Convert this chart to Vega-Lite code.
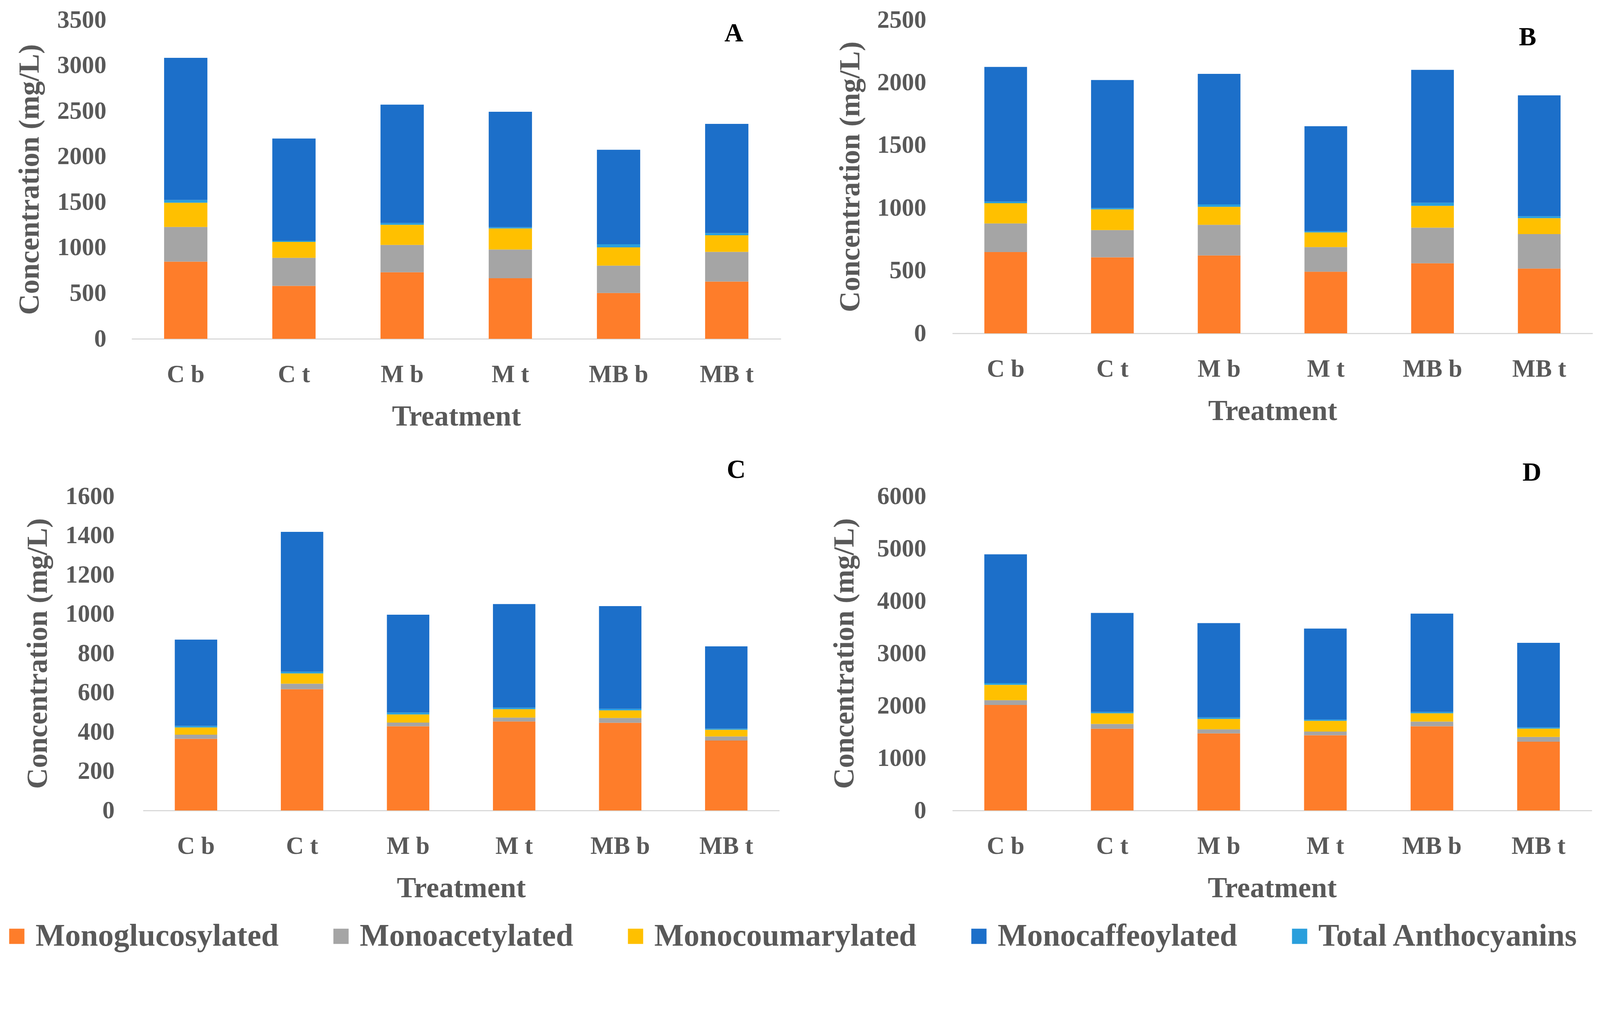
{
  "$schema": "https://vega.github.io/schema/vega-lite/v6.json",
  "background": "white",
  "padding": {"left": 3, "top": 20, "right": 10, "bottom": 10},
  "data": {"values": [
    {"panel": "A", "treatment": "C b", "series": "Monoglucosylated", "value": 847},
    {"panel": "A", "treatment": "C b", "series": "Monoacetylated", "value": 381},
    {"panel": "A", "treatment": "C b", "series": "Monocoumarylated", "value": 266},
    {"panel": "A", "treatment": "C b", "series": "Total Anthocyanins", "value": 30},
    {"panel": "A", "treatment": "C b", "series": "Monocaffeoylated", "value": 1560},
    {"panel": "A", "treatment": "C t", "series": "Monoglucosylated", "value": 581},
    {"panel": "A", "treatment": "C t", "series": "Monoacetylated", "value": 308},
    {"panel": "A", "treatment": "C t", "series": "Monocoumarylated", "value": 175},
    {"panel": "A", "treatment": "C t", "series": "Total Anthocyanins", "value": 13},
    {"panel": "A", "treatment": "C t", "series": "Monocaffeoylated", "value": 1121},
    {"panel": "A", "treatment": "M b", "series": "Monoglucosylated", "value": 730},
    {"panel": "A", "treatment": "M b", "series": "Monoacetylated", "value": 300},
    {"panel": "A", "treatment": "M b", "series": "Monocoumarylated", "value": 221},
    {"panel": "A", "treatment": "M b", "series": "Total Anthocyanins", "value": 20},
    {"panel": "A", "treatment": "M b", "series": "Monocaffeoylated", "value": 1299},
    {"panel": "A", "treatment": "M t", "series": "Monoglucosylated", "value": 665},
    {"panel": "A", "treatment": "M t", "series": "Monoacetylated", "value": 315},
    {"panel": "A", "treatment": "M t", "series": "Monocoumarylated", "value": 232},
    {"panel": "A", "treatment": "M t", "series": "Total Anthocyanins", "value": 13},
    {"panel": "A", "treatment": "M t", "series": "Monocaffeoylated", "value": 1267},
    {"panel": "A", "treatment": "MB b", "series": "Monoglucosylated", "value": 503},
    {"panel": "A", "treatment": "MB b", "series": "Monoacetylated", "value": 300},
    {"panel": "A", "treatment": "MB b", "series": "Monocoumarylated", "value": 201},
    {"panel": "A", "treatment": "MB b", "series": "Total Anthocyanins", "value": 34},
    {"panel": "A", "treatment": "MB b", "series": "Monocaffeoylated", "value": 1037},
    {"panel": "A", "treatment": "MB t", "series": "Monoglucosylated", "value": 628},
    {"panel": "A", "treatment": "MB t", "series": "Monoacetylated", "value": 326},
    {"panel": "A", "treatment": "MB t", "series": "Monocoumarylated", "value": 183},
    {"panel": "A", "treatment": "MB t", "series": "Total Anthocyanins", "value": 23},
    {"panel": "A", "treatment": "MB t", "series": "Monocaffeoylated", "value": 1199},
    {"panel": "B", "treatment": "C b", "series": "Monoglucosylated", "value": 648},
    {"panel": "B", "treatment": "C b", "series": "Monoacetylated", "value": 229},
    {"panel": "B", "treatment": "C b", "series": "Monocoumarylated", "value": 161},
    {"panel": "B", "treatment": "C b", "series": "Total Anthocyanins", "value": 13},
    {"panel": "B", "treatment": "C b", "series": "Monocaffeoylated", "value": 1074},
    {"panel": "B", "treatment": "C t", "series": "Monoglucosylated", "value": 606},
    {"panel": "B", "treatment": "C t", "series": "Monoacetylated", "value": 218},
    {"panel": "B", "treatment": "C t", "series": "Monocoumarylated", "value": 165},
    {"panel": "B", "treatment": "C t", "series": "Total Anthocyanins", "value": 11},
    {"panel": "B", "treatment": "C t", "series": "Monocaffeoylated", "value": 1021},
    {"panel": "B", "treatment": "M b", "series": "Monoglucosylated", "value": 621},
    {"panel": "B", "treatment": "M b", "series": "Monoacetylated", "value": 245},
    {"panel": "B", "treatment": "M b", "series": "Monocoumarylated", "value": 143},
    {"panel": "B", "treatment": "M b", "series": "Total Anthocyanins", "value": 20},
    {"panel": "B", "treatment": "M b", "series": "Monocaffeoylated", "value": 1041},
    {"panel": "B", "treatment": "M t", "series": "Monoglucosylated", "value": 492},
    {"panel": "B", "treatment": "M t", "series": "Monoacetylated", "value": 196},
    {"panel": "B", "treatment": "M t", "series": "Monocoumarylated", "value": 117},
    {"panel": "B", "treatment": "M t", "series": "Total Anthocyanins", "value": 9},
    {"panel": "B", "treatment": "M t", "series": "Monocaffeoylated", "value": 838},
    {"panel": "B", "treatment": "MB b", "series": "Monoglucosylated", "value": 559},
    {"panel": "B", "treatment": "MB b", "series": "Monoacetylated", "value": 284},
    {"panel": "B", "treatment": "MB b", "series": "Monocoumarylated", "value": 174},
    {"panel": "B", "treatment": "MB b", "series": "Total Anthocyanins", "value": 25},
    {"panel": "B", "treatment": "MB b", "series": "Monocaffeoylated", "value": 1060},
    {"panel": "B", "treatment": "MB t", "series": "Monoglucosylated", "value": 517},
    {"panel": "B", "treatment": "MB t", "series": "Monoacetylated", "value": 275},
    {"panel": "B", "treatment": "MB t", "series": "Monocoumarylated", "value": 127},
    {"panel": "B", "treatment": "MB t", "series": "Total Anthocyanins", "value": 15},
    {"panel": "B", "treatment": "MB t", "series": "Monocaffeoylated", "value": 964},
    {"panel": "C", "treatment": "C b", "series": "Monoglucosylated", "value": 365},
    {"panel": "C", "treatment": "C b", "series": "Monoacetylated", "value": 21},
    {"panel": "C", "treatment": "C b", "series": "Monocoumarylated", "value": 37},
    {"panel": "C", "treatment": "C b", "series": "Total Anthocyanins", "value": 8},
    {"panel": "C", "treatment": "C b", "series": "Monocaffeoylated", "value": 439},
    {"panel": "C", "treatment": "C t", "series": "Monoglucosylated", "value": 618},
    {"panel": "C", "treatment": "C t", "series": "Monoacetylated", "value": 28},
    {"panel": "C", "treatment": "C t", "series": "Monocoumarylated", "value": 52},
    {"panel": "C", "treatment": "C t", "series": "Total Anthocyanins", "value": 9},
    {"panel": "C", "treatment": "C t", "series": "Monocaffeoylated", "value": 712},
    {"panel": "C", "treatment": "M b", "series": "Monoglucosylated", "value": 429},
    {"panel": "C", "treatment": "M b", "series": "Monoacetylated", "value": 19},
    {"panel": "C", "treatment": "M b", "series": "Monocoumarylated", "value": 41},
    {"panel": "C", "treatment": "M b", "series": "Total Anthocyanins", "value": 10},
    {"panel": "C", "treatment": "M b", "series": "Monocaffeoylated", "value": 498},
    {"panel": "C", "treatment": "M t", "series": "Monoglucosylated", "value": 453},
    {"panel": "C", "treatment": "M t", "series": "Monoacetylated", "value": 20},
    {"panel": "C", "treatment": "M t", "series": "Monocoumarylated", "value": 43},
    {"panel": "C", "treatment": "M t", "series": "Total Anthocyanins", "value": 8},
    {"panel": "C", "treatment": "M t", "series": "Monocaffeoylated", "value": 527},
    {"panel": "C", "treatment": "MB b", "series": "Monoglucosylated", "value": 447},
    {"panel": "C", "treatment": "MB b", "series": "Monoacetylated", "value": 24},
    {"panel": "C", "treatment": "MB b", "series": "Monocoumarylated", "value": 39},
    {"panel": "C", "treatment": "MB b", "series": "Total Anthocyanins", "value": 8},
    {"panel": "C", "treatment": "MB b", "series": "Monocaffeoylated", "value": 523},
    {"panel": "C", "treatment": "MB t", "series": "Monoglucosylated", "value": 356},
    {"panel": "C", "treatment": "MB t", "series": "Monoacetylated", "value": 21},
    {"panel": "C", "treatment": "MB t", "series": "Monocoumarylated", "value": 34},
    {"panel": "C", "treatment": "MB t", "series": "Total Anthocyanins", "value": 6},
    {"panel": "C", "treatment": "MB t", "series": "Monocaffeoylated", "value": 419},
    {"panel": "D", "treatment": "C b", "series": "Monoglucosylated", "value": 2015},
    {"panel": "D", "treatment": "C b", "series": "Monoacetylated", "value": 91},
    {"panel": "D", "treatment": "C b", "series": "Monocoumarylated", "value": 294},
    {"panel": "D", "treatment": "C b", "series": "Total Anthocyanins", "value": 32},
    {"panel": "D", "treatment": "C b", "series": "Monocaffeoylated", "value": 2459},
    {"panel": "D", "treatment": "C t", "series": "Monoglucosylated", "value": 1562},
    {"panel": "D", "treatment": "C t", "series": "Monoacetylated", "value": 91},
    {"panel": "D", "treatment": "C t", "series": "Monocoumarylated", "value": 204},
    {"panel": "D", "treatment": "C t", "series": "Total Anthocyanins", "value": 25},
    {"panel": "D", "treatment": "C t", "series": "Monocaffeoylated", "value": 1891},
    {"panel": "D", "treatment": "M b", "series": "Monoglucosylated", "value": 1472},
    {"panel": "D", "treatment": "M b", "series": "Monoacetylated", "value": 78},
    {"panel": "D", "treatment": "M b", "series": "Monocoumarylated", "value": 198},
    {"panel": "D", "treatment": "M b", "series": "Total Anthocyanins", "value": 30},
    {"panel": "D", "treatment": "M b", "series": "Monocaffeoylated", "value": 1800},
    {"panel": "D", "treatment": "M t", "series": "Monoglucosylated", "value": 1436},
    {"panel": "D", "treatment": "M t", "series": "Monoacetylated", "value": 72},
    {"panel": "D", "treatment": "M t", "series": "Monocoumarylated", "value": 204},
    {"panel": "D", "treatment": "M t", "series": "Total Anthocyanins", "value": 25},
    {"panel": "D", "treatment": "M t", "series": "Monocaffeoylated", "value": 1737},
    {"panel": "D", "treatment": "MB b", "series": "Monoglucosylated", "value": 1608},
    {"panel": "D", "treatment": "MB b", "series": "Monoacetylated", "value": 90},
    {"panel": "D", "treatment": "MB b", "series": "Monocoumarylated", "value": 159},
    {"panel": "D", "treatment": "MB b", "series": "Total Anthocyanins", "value": 25},
    {"panel": "D", "treatment": "MB b", "series": "Monocaffeoylated", "value": 1877},
    {"panel": "D", "treatment": "MB t", "series": "Monoglucosylated", "value": 1313},
    {"panel": "D", "treatment": "MB t", "series": "Monoacetylated", "value": 91},
    {"panel": "D", "treatment": "MB t", "series": "Monocoumarylated", "value": 159},
    {"panel": "D", "treatment": "MB t", "series": "Total Anthocyanins", "value": 25},
    {"panel": "D", "treatment": "MB t", "series": "Monocaffeoylated", "value": 1614}
  ]},
  "transform": [
    {"calculate": "indexof(['Monoglucosylated','Monoacetylated','Monocoumarylated','Total Anthocyanins','Monocaffeoylated'], datum.series)", "as": "stackOrder"}
  ],
  "config": {
    "view": {"stroke": null},
    "font": "Liberation Serif",
    "axis": {
      "labelFont": "Liberation Serif", "labelFontWeight": "bold", "labelColor": "#595959", "labelFontSize": 63,
      "titleFont": "Liberation Serif", "titleFontWeight": "bold", "titleColor": "#595959", "titleFontSize": 74,
      "grid": false, "ticks": false
    },
    "axisX": {"domainColor": "#D9D9D9", "domainWidth": 3, "labelAngle": 0, "labelPadding": 60, "titlePadding": 40},
    "axisY": {"domain": false, "labelPadding": 65, "titlePadding": 70, "format": "d"},
    "title": {"font": "Liberation Serif", "fontWeight": "bold", "fontSize": 67, "color": "#000000", "anchor": "end", "offset": 0, "baseline": "alphabetic", "frame": "group"},
    "legend": {
      "orient": "none", "legendX": -363, "legendY": 2305, "direction": "horizontal", "title": null, "symbolType": "square", "symbolSize": 1521,
      "symbolStrokeWidth": 0, "labelFont": "Liberation Serif", "labelFontWeight": "bold", "labelFontSize": 80,
      "labelColor": "#595959", "labelOffset": 8, "columnPadding": 119, "labelLimit": 0
    }
  },
  "vconcat": [
    {
      "hconcat": [
        {
          "width": 1662, "height": 816,
          "transform": [{"filter": "datum.panel === 'A'"}],
          "title": {"text": "A", "dx": -125, "dy": 104},
          "mark": {"type": "bar"},
          "encoding": {
            "x": {"field": "treatment", "type": "nominal", "sort": ["C b", "C t", "M b", "M t", "MB b", "MB t"], "scale": {"paddingInner": 0.6, "paddingOuter": 0.3, "rangeMin": -29, "rangeMax": 1633}, "axis": {"title": "Treatment"}},
            "y": {"field": "value", "type": "quantitative", "stack": "zero", "scale": {"domain": [0, 3500], "nice": false}, "axis": {"values": [0, 500, 1000, 1500, 2000, 2500, 3000, 3500], "title": "Concentration (mg/L)", "labelPadding": 94, "titlePadding": 52}},
            "color": {"field": "series", "type": "nominal", "scale": {"domain": ["Monoglucosylated", "Monoacetylated", "Monocoumarylated", "Monocaffeoylated", "Total Anthocyanins"], "range": ["#FE7D2A", "#A5A5A5", "#FFC000", "#1C6FC9", "#2A9FDC"]}},
            "order": {"field": "stackOrder", "type": "quantitative"}
          }
        },
        {
          "width": 1639, "height": 802,
          "transform": [{"filter": "datum.panel === 'B'"}],
          "title": {"text": "B", "dx": -144, "dy": 114},
          "mark": {"type": "bar"},
          "encoding": {
            "x": {"field": "treatment", "type": "nominal", "sort": ["C b", "C t", "M b", "M t", "MB b", "MB t"], "scale": {"paddingInner": 0.6, "paddingOuter": 0.3}, "axis": {"title": "Treatment"}},
            "y": {"field": "value", "type": "quantitative", "stack": "zero", "scale": {"domain": [0, 2500], "nice": false}, "axis": {"values": [0, 500, 1000, 1500, 2000, 2500], "title": "Concentration (mg/L)", "labelPadding": 67, "titlePadding": 30}},
            "color": {"field": "series", "type": "nominal", "scale": {"domain": ["Monoglucosylated", "Monoacetylated", "Monocoumarylated", "Monocaffeoylated", "Total Anthocyanins"], "range": ["#FE7D2A", "#A5A5A5", "#FFC000", "#1C6FC9", "#2A9FDC"]}},
            "order": {"field": "stackOrder", "type": "quantitative"}
          }
        }
      ],
      "spacing": 410, "bounds": "flush"
    },
    {
      "hconcat": [
        {
          "width": 1629, "height": 804,
          "transform": [{"filter": "datum.panel === 'C'"}],
          "title": {"text": "C", "dx": -86, "dy": 2},
          "mark": {"type": "bar"},
          "encoding": {
            "x": {"field": "treatment", "type": "nominal", "sort": ["C b", "C t", "M b", "M t", "MB b", "MB t"], "scale": {"paddingInner": 0.6, "paddingOuter": 0.3}, "axis": {"title": "Treatment"}},
            "y": {"field": "value", "type": "quantitative", "stack": "zero", "scale": {"domain": [0, 1600], "nice": false}, "axis": {"values": [0, 200, 400, 600, 800, 1000, 1200, 1400, 1600], "title": "Concentration (mg/L)", "labelPadding": 73, "titlePadding": 32}},
            "color": {"field": "series", "type": "nominal", "scale": {"domain": ["Monoglucosylated", "Monoacetylated", "Monocoumarylated", "Monocaffeoylated", "Total Anthocyanins"], "range": ["#FE7D2A", "#A5A5A5", "#FFC000", "#1C6FC9", "#2A9FDC"]}},
            "order": {"field": "stackOrder", "type": "quantitative"}
          }
        },
        {
          "width": 1637, "height": 804,
          "transform": [{"filter": "datum.panel === 'D'"}],
          "title": {"text": "D", "dx": -129, "dy": 9},
          "mark": {"type": "bar"},
          "encoding": {
            "x": {"field": "treatment", "type": "nominal", "sort": ["C b", "C t", "M b", "M t", "MB b", "MB t"], "scale": {"paddingInner": 0.6, "paddingOuter": 0.3}, "axis": {"title": "Treatment"}},
            "y": {"field": "value", "type": "quantitative", "stack": "zero", "scale": {"domain": [0, 6000], "nice": false}, "axis": {"values": [0, 1000, 2000, 3000, 4000, 5000, 6000], "title": "Concentration (mg/L)", "labelPadding": 67, "titlePadding": 45}},
            "color": {"field": "series", "type": "nominal", "scale": {"domain": ["Monoglucosylated", "Monoacetylated", "Monocoumarylated", "Monocaffeoylated", "Total Anthocyanins"], "range": ["#FE7D2A", "#A5A5A5", "#FFC000", "#1C6FC9", "#2A9FDC"]}},
            "order": {"field": "stackOrder", "type": "quantitative"}
          }
        }
      ],
      "spacing": 443, "bounds": "flush"
    }
  ],
  "spacing": 66,
  "resolve": {"scale": {"y": "independent"}}
}
